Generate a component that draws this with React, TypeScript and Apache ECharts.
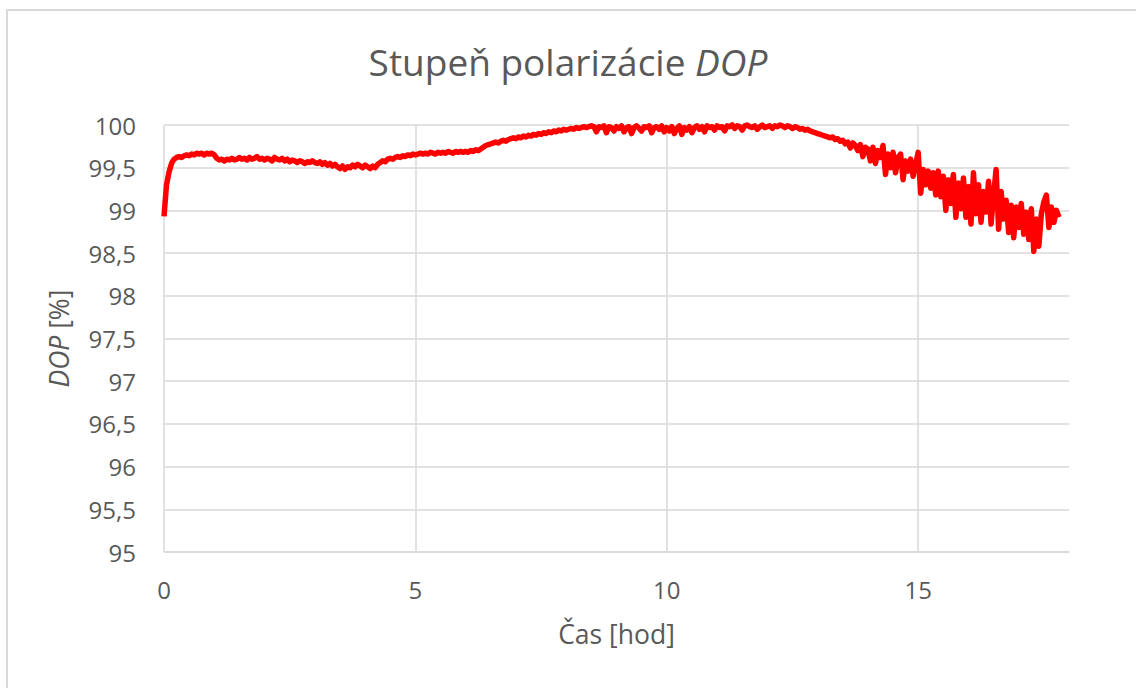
import React, { useEffect, useRef } from "react";
import * as echarts from "echarts";

// Sampling interval of the recorded DOP values, in hours
const SAMPLE_STEP_H = 0.05;

// DOP [%], one value per 0.05 h, grouped by hour
const dopHour0 = [98.93, 99.30, 99.45, 99.55, 99.60, 99.62, 99.63, 99.62, 99.64, 99.65, 99.64, 99.66, 99.65, 99.67, 99.66, 99.67, 99.65, 99.67, 99.66, 99.67];
const dopHour1 = [99.65, 99.61, 99.59, 99.60, 99.58, 99.60, 99.59, 99.61, 99.59, 99.60, 99.62, 99.60, 99.61, 99.59, 99.62, 99.60, 99.61, 99.63, 99.60, 99.61];
const dopHour2 = [99.59, 99.61, 99.60, 99.58, 99.62, 99.60, 99.59, 99.61, 99.58, 99.60, 99.57, 99.59, 99.58, 99.56, 99.58, 99.57, 99.55, 99.57, 99.56, 99.58];
const dopHour3 = [99.56, 99.55, 99.57, 99.54, 99.56, 99.53, 99.55, 99.52, 99.54, 99.51, 99.49, 99.52, 99.48, 99.51, 99.50, 99.53, 99.51, 99.54, 99.52, 99.50];
const dopHour4 = [99.53, 99.51, 99.49, 99.52, 99.50, 99.54, 99.56, 99.58, 99.57, 99.60, 99.61, 99.60, 99.62, 99.63, 99.62, 99.64, 99.63, 99.65, 99.64, 99.66];
const dopHour5 = [99.65, 99.66, 99.67, 99.66, 99.67, 99.66, 99.68, 99.67, 99.66, 99.68, 99.67, 99.68, 99.67, 99.69, 99.68, 99.67, 99.69, 99.68, 99.69, 99.68];
const dopHour6 = [99.69, 99.68, 99.70, 99.69, 99.71, 99.70, 99.72, 99.74, 99.76, 99.77, 99.78, 99.79, 99.80, 99.79, 99.81, 99.82, 99.81, 99.83, 99.84, 99.85];
const dopHour7 = [99.84, 99.86, 99.85, 99.87, 99.86, 99.88, 99.87, 99.89, 99.88, 99.90, 99.89, 99.91, 99.90, 99.92, 99.91, 99.93, 99.92, 99.94, 99.93, 99.95];
const dopHour8 = [99.94, 99.95, 99.96, 99.95, 99.97, 99.96, 99.97, 99.98, 99.97, 99.98, 99.99, 99.98, 99.92, 99.98, 99.97, 99.99, 99.91, 99.98, 99.97, 99.93];
const dopHour9 = [99.98, 99.96, 99.99, 99.92, 99.97, 99.98, 99.90, 99.97, 99.99, 99.96, 99.93, 99.98, 99.97, 99.99, 99.91, 99.97, 99.98, 99.95, 99.99, 99.92];
const dopHour10 = [99.97, 99.93, 99.98, 99.90, 99.96, 99.99, 99.89, 99.97, 99.94, 99.98, 99.91, 99.97, 99.99, 99.95, 99.98, 99.92, 99.99, 99.97, 99.98, 99.94];
const dopHour11 = [99.99, 99.97, 99.98, 99.93, 99.99, 99.98, 100.0, 99.96, 99.99, 99.98, 99.94, 99.99, 100.0, 99.98, 99.97, 99.99, 99.95, 99.98, 100.0, 99.97];
const dopHour12 = [99.98, 99.99, 99.96, 99.99, 99.98, 100.0, 99.99, 99.97, 99.99, 99.98, 99.96, 99.98, 99.97, 99.95, 99.96, 99.94, 99.95, 99.93, 99.92, 99.91];
const dopHour13 = [99.90, 99.89, 99.88, 99.87, 99.86, 99.85, 99.86, 99.83, 99.84, 99.81, 99.82, 99.78, 99.80, 99.73, 99.79, 99.76, 99.70, 99.77, 99.63, 99.74];
const dopHour14 = [99.72, 99.58, 99.74, 99.55, 99.70, 99.62, 99.76, 99.42, 99.66, 99.50, 99.68, 99.44, 99.62, 99.66, 99.36, 99.58, 99.46, 99.60, 99.40, 99.54];
const dopHour15 = [99.68, 99.20, 99.48, 99.30, 99.46, 99.26, 99.44, 99.18, 99.46, 99.16, 99.40, 99.00, 99.36, 99.08, 99.42, 98.92, 99.32, 99.02, 99.38, 98.92];
const dopHour16 = [99.28, 98.84, 99.44, 98.96, 99.30, 98.86, 99.22, 98.98, 99.34, 98.84, 99.18, 99.48, 98.78, 99.22, 98.90, 99.12, 98.74, 99.06, 98.68, 99.04];
const dopHour17 = [98.80, 99.08, 98.72, 98.98, 98.66, 99.02, 98.52, 98.90, 98.58, 98.96, 99.10, 99.18, 98.80, 99.04, 98.86, 99.00, 98.92];

const dopValues = [
  ...dopHour0, ...dopHour1, ...dopHour2, ...dopHour3, ...dopHour4, ...dopHour5,
  ...dopHour6, ...dopHour7, ...dopHour8, ...dopHour9, ...dopHour10, ...dopHour11,
  ...dopHour12, ...dopHour13, ...dopHour14, ...dopHour15, ...dopHour16, ...dopHour17,
];
const timesH = dopValues.map((_, i) => +(i * SAMPLE_STEP_H).toFixed(2));

const TITLE_MAIN = "Stupeň polarizácie ";
const TITLE_ITALIC = "DOP";
const X_NAME = "Čas [hod]";
const Y_NAME_ITALIC = "DOP";
const Y_NAME_REST = " [%]";

const FONT = "'Open Sans', 'Noto Sans', sans-serif";
const TEXT = "#595959";
const GRID = "#d9d9d9";

export default function App() {
  const ref = useRef<HTMLDivElement>(null);
  useEffect(() => {
    if (!ref.current) return;
    const chart = echarts.init(ref.current, null, { renderer: "svg" });
    chart.setOption({
      animation: false,
      backgroundColor: "#ffffff",
      textStyle: { fontFamily: FONT },
      title: {
        text: `{n|${TITLE_MAIN}}{i|${TITLE_ITALIC}}`,
        left: "center",
        top: 38,
        textStyle: {
          fontFamily: FONT,
          fontSize: 37,
          fontWeight: "normal",
          color: TEXT,
          rich: {
            n: { fontFamily: FONT, fontSize: 37, color: TEXT },
            i: { fontFamily: FONT, fontSize: 37, color: TEXT, fontStyle: "italic" },
          },
        },
      },
      graphic: [
        {
          type: "rect",
          silent: true,
          shape: { x: 7, y: 10, width: 2000, height: 2000 },
          style: { fill: "none", stroke: GRID, lineWidth: 2 },
        },
      ],
      grid: { left: 164, top: 125, right: 67, bottom: 136, containLabel: false },
      xAxis: {
        type: "value",
        min: 0,
        max: 18,
        interval: 5,
        name: X_NAME,
        nameLocation: "middle",
        nameGap: 68,
        nameTextStyle: { fontFamily: FONT, fontSize: 26.5, color: TEXT },
        axisLine: { show: true, lineStyle: { color: GRID, width: 1.5 } },
        axisTick: { show: false },
        axisLabel: {
          fontFamily: FONT,
          fontSize: 24,
          color: TEXT,
          margin: 25,
          showMaxLabel: false,
          formatter: (v: number) => (v % 5 === 0 ? String(v) : ""),
        },
        splitLine: { show: true, showMinLine: true, showMaxLine: false, lineStyle: { color: GRID, width: 1.5 } },
      },
      yAxis: {
        type: "value",
        min: 95,
        max: 100,
        interval: 0.5,
        name: `{i|${Y_NAME_ITALIC}}{n|${Y_NAME_REST}}`,
        nameLocation: "middle",
        nameGap: 92,
        nameRotate: 90,
        nameTextStyle: {
          fontFamily: FONT,
          fontSize: 26.5,
          color: TEXT,
          rich: {
            i: { fontFamily: FONT, fontSize: 26.5, color: TEXT, fontStyle: "italic" },
            n: { fontFamily: FONT, fontSize: 26.5, color: TEXT },
          },
        },
        axisLine: { show: false },
        axisTick: { show: false },
        axisLabel: {
          fontFamily: FONT,
          fontSize: 24,
          color: TEXT,
          margin: 28,
          formatter: (v: number) => String(v).replace(".", ","),
        },
        splitLine: { show: true, lineStyle: { color: GRID, width: 1.5 } },
      },
      series: [
        {
          type: "line",
          data: timesH.map((t, i) => [t, dopValues[i]]),
          showSymbol: false,
          symbol: "none",
          clip: false,
          lineStyle: { color: "#ff0000", width: 5.5, join: "round" },
        },
      ],
    });
    return () => chart.dispose();
  }, []);
  return (
    <div
      ref={ref}
      style={{ position: "absolute", left: 0, top: 0, width: 1136, height: 688 }}
    />
  );
}
